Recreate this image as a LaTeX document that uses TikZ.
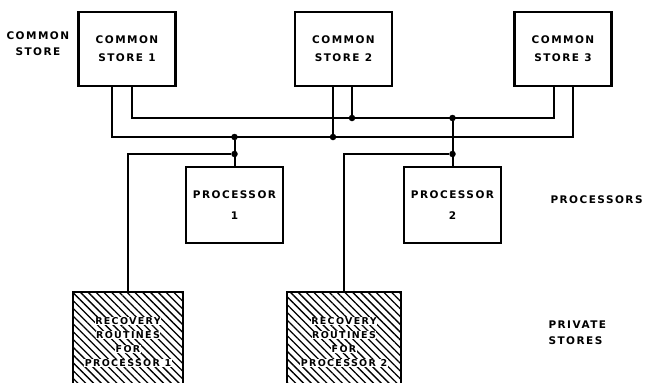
\documentclass[tikz,border=0pt]{standalone}
\usepackage{fontspec}
\newfontfamily\lblfont[LetterSpace=14]{DejaVu Sans Bold}
\usetikzlibrary{patterns.meta}
\newcommand{\clearword}[1]{{\setlength{\fboxsep}{0.4pt}\colorbox{white}{#1}}}

\tikzset{
  storebox/.style={draw, line width=2.8pt, minimum width=97pt, minimum height=74pt,
    align=center, font=\lblfont\fontsize{10.5}{18}\selectfont},
  procbox/.style={storebox, minimum height=76pt, font=\lblfont\fontsize{10.5}{21}\selectfont},
  privbox/.style={draw, line width=2.8pt, minimum height=100pt, align=center,
    pattern={Lines[angle=-45, distance=5.5pt, line width=1.3pt]},
    font=\lblfont\fontsize{9.5}{13.8}\selectfont},
  sidelabel/.style={align=left, font=\lblfont\fontsize{10.5}{16}\selectfont},
  bus/.style={line width=2pt},
  feed/.style={line width=1.4pt},
  junction/.style={circle, fill, inner sep=0pt, minimum size=6.5pt}
}

\begin{document}
\begin{tikzpicture}[x=1pt, y=-1pt]
\useasboundingbox (0,0) rectangle (646,383);
\clip (0,0) rectangle (646,383);

\node[storebox] (s1) at (127,49) {COMMON\\STORE\enspace 1};
\node[storebox] (s2) at (343.5,49) {COMMON\\STORE\enspace 2};
\node[storebox] (s3) at (563,49) {COMMON\\STORE\enspace 3};
\node[procbox] (p1) at (234.5,205) {PROCESSOR\\1};
\node[procbox] (p2) at (452.5,205) {PROCESSOR\\2};
\node[privbox, minimum width=110pt] (r1) at (128,342)
  {\clearword{RECOVERY}\\\clearword{ROUTINES}\\\clearword{FOR}\\\clearword{PROCESSOR 1}};
\node[privbox, minimum width=114pt] (r2) at (344,342)
  {\clearword{RECOVERY}\\\clearword{ROUTINES}\\\clearword{FOR}\\\clearword{PROCESSOR 2}};

\node[sidelabel, anchor=west] (lstore) at (3,44) {COMMON\\\hspace*{9pt}STORE};
\node[sidelabel, anchor=west] (lproc) at (547,200) {PROCESSORS};
\node[sidelabel, anchor=west] (lpriv) at (545,333) {PRIVATE\\STORES};

\coordinate (loW) at (112,137);
\coordinate (loE) at (573,137);
\coordinate (upW) at (132,118);
\coordinate (upE) at (554,118);
\draw[bus] (s1.south -| loW) -- (loW) -- (loE) -- (s3.south -| loE);
\draw[bus] (s1.south -| upW) -- (upW) -- (upE) -- (s3.south -| upE);

\node[junction] (lo2) at (333,137) {};
\node[junction] (up2) at (352,118) {};
\draw[bus] (s2.south -| lo2) -- (lo2);
\draw[bus] (s2.south -| up2) -- (up2);

\node[junction] (tap1) at (p1.north |- loW) {};
\node[junction] (join1) at (p1.north |- 0,154) {};
\draw[bus] (tap1) -- (p1.north);
\draw[feed] (join1) -| (r1.north);

\node[junction] (tap2) at (p2.north |- upW) {};
\node[junction] (join2) at (p2.north |- 0,154) {};
\draw[bus] (tap2) -- (p2.north);
\draw[feed] (join2) -| (r2.north);
\end{tikzpicture}
\end{document}
